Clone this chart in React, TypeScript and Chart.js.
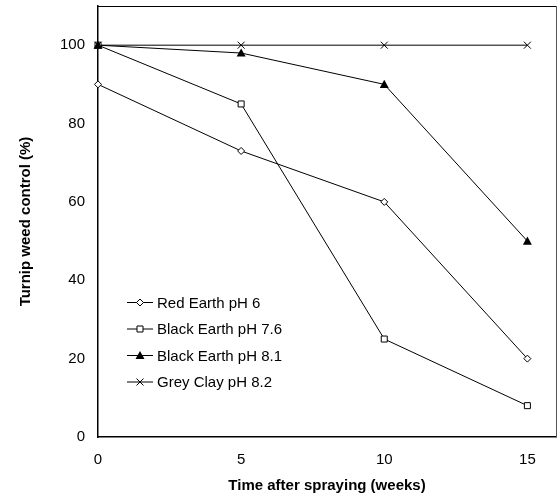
import React, { useEffect, useRef } from "react";
import { Chart, registerables } from "chart.js";

Chart.register(...registerables);

const weeks = [0, 5, 10, 15];
const seriesNames = ["Red Earth pH 6", "Black Earth pH 7.6", "Black Earth pH 8.1", "Grey Clay pH 8.2"];
const redEarth6 = [90, 73, 60, 20];
const blackEarth76 = [100, 85, 25, 8];
const blackEarth81 = [100, 98, 90, 50];
const greyClay82 = [100, 100, 100, 100];
const xTicks = [0, 5, 10, 15];
const yTicks = [0, 20, 40, 60, 80, 100];

const FONT = "'Liberation Sans', Arial, sans-serif";

type Marker = "diamond" | "square" | "triangle" | "cross";
const markers: Marker[] = ["diamond", "square", "triangle", "cross"];

function drawMarker(ctx: CanvasRenderingContext2D, kind: Marker, x: number, y: number) {
  ctx.save();
  ctx.strokeStyle = "#000";
  ctx.fillStyle = "#fff";
  ctx.lineWidth = 1;
  ctx.beginPath();
  if (kind === "diamond") {
    const r = 3.5;
    ctx.moveTo(x, y - r);
    ctx.lineTo(x + r, y);
    ctx.lineTo(x, y + r);
    ctx.lineTo(x - r, y);
    ctx.closePath();
    ctx.fill();
    ctx.stroke();
  } else if (kind === "square") {
    const r = 3;
    ctx.rect(x - r, y - r, 2 * r, 2 * r);
    ctx.fill();
    ctx.stroke();
  } else if (kind === "triangle") {
    const r = 4.5;
    ctx.fillStyle = "#000";
    ctx.moveTo(x, y - r);
    ctx.lineTo(x + r, y + r * 0.8);
    ctx.lineTo(x - r, y + r * 0.8);
    ctx.closePath();
    ctx.fill();
  } else {
    const r = 3.5;
    ctx.moveTo(x - r, y - r);
    ctx.lineTo(x + r, y + r);
    ctx.moveTo(x + r, y - r);
    ctx.lineTo(x - r, y + r);
    ctx.stroke();
  }
  ctx.restore();
}

const markerPlugin = {
  id: "markersAndLegend",
  afterDatasetsDraw(chart: any) {
    const ctx: CanvasRenderingContext2D = chart.ctx;
    chart.data.datasets.forEach((ds: any, i: number) => {
      const meta = chart.getDatasetMeta(i);
      meta.data.forEach((pt: any) => drawMarker(ctx, markers[i], pt.x, pt.y));
    });
    const area = chart.chartArea;
    // box
    ctx.save();
    ctx.strokeStyle = "#000";
    ctx.lineWidth = 1;
    ctx.beginPath();
    ctx.moveTo(area.left, area.top + 0.5);
    ctx.lineTo(area.right + 0.5, area.top + 0.5);
    ctx.stroke();
    ctx.strokeStyle = "#555";
    ctx.beginPath();
    ctx.moveTo(area.right + 0.5, area.top);
    ctx.lineTo(area.right + 0.5, area.bottom);
    ctx.stroke();
    ctx.restore();
    // legend
    const rowsY = [302.5, 329, 355.5, 382];
    ctx.save();
    ctx.font = `15px ${FONT}`;
    ctx.fillStyle = "#000";
    ctx.textBaseline = "middle";
    ctx.textAlign = "left";
    seriesNames.forEach((name, i) => {
      const y = rowsY[i];
      ctx.strokeStyle = "#000";
      ctx.lineWidth = 1;
      ctx.beginPath();
      ctx.moveTo(127, y);
      ctx.lineTo(153, y);
      ctx.stroke();
      drawMarker(ctx, markers[i], 140, y);
      ctx.fillText(name, 157, y + 1);
    });
    ctx.restore();
  },
};

export default function App() {
  const ref = useRef<HTMLCanvasElement>(null);
  useEffect(() => {
    if (!ref.current) return;
    const all = [redEarth6, blackEarth76, blackEarth81, greyClay82];
    const chart = new Chart(ref.current, {
      type: "scatter",
      data: {
        datasets: all.map((vals, i) => ({
          label: seriesNames[i],
          data: weeks.map((w, j) => ({ x: w, y: vals[j] })),
          showLine: true,
          borderColor: "#000",
          borderWidth: 1,
          pointRadius: 0,
          pointHoverRadius: 0,
          tension: 0,
        })),
      },
      options: {
        animation: false,
        responsive: false,
        maintainAspectRatio: false,
        events: [],
        layout: { padding: { top: 6, right: 3, left: 0, bottom: 0 } },
        plugins: { legend: { display: false }, tooltip: { enabled: false } },
        scales: {
          x: {
            type: "linear",
            min: 0,
            max: 16,
            afterBuildTicks: (s: any) => {
              s.ticks = xTicks.map((v) => ({ value: v }));
            },
            afterFit: (s: any) => {
              s.height = 58;
              s.paddingLeft = 0;
              s.paddingRight = 0;
            },
            grid: { display: false, drawTicks: true, tickLength: 5, tickColor: "#000" } as any,
            border: { display: true, color: "#000", width: 1.5 },
            ticks: { color: "#000", font: { family: FONT, size: 15 }, padding: 9, maxRotation: 0 },
            title: {
              display: true,
              text: "Time after spraying (weeks)",
              color: "#000",
              font: { family: FONT, size: 15, weight: "bold" },
              padding: { top: 4, bottom: 0 },
            },
          },
          y: {
            type: "linear",
            min: 0,
            max: 110,
            afterBuildTicks: (s: any) => {
              s.ticks = yTicks.map((v) => ({ value: v }));
            },
            afterFit: (s: any) => {
              s.width = 98;
              s.paddingTop = 0;
              s.paddingBottom = 0;
            },
            grid: { display: false, drawTicks: true, tickLength: 5, tickColor: "#000" } as any,
            border: { display: true, color: "#000", width: 1.5 },
            ticks: { color: "#000", font: { family: FONT, size: 15 }, padding: 8 },
            title: {
              display: true,
              text: "Turnip weed control (%)",
              color: "#000",
              font: { family: FONT, size: 15, weight: "bold" },
              padding: { top: 17, bottom: 0 },
            },
          },
        },
      } as any,
      plugins: [markerPlugin],
    });
    return () => chart.destroy();
  }, []);
  return (
    <div style={{ position: "absolute", left: 0, top: 0, width: 559, height: 495, background: "#fff" }}>
      <canvas ref={ref} width={559} height={495} style={{ width: 559, height: 495 }} />
    </div>
  );
}
